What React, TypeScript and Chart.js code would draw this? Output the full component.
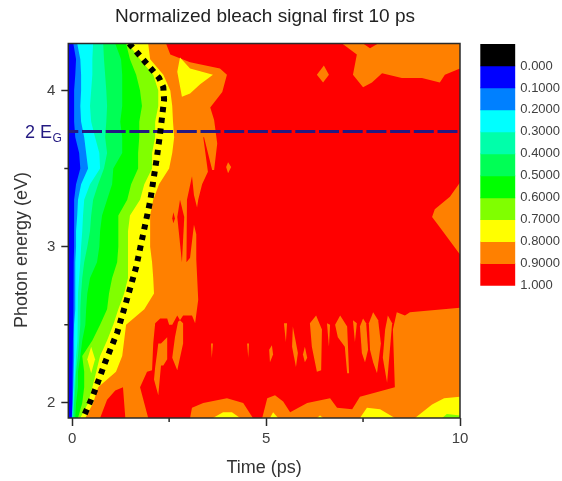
import React, { useEffect, useRef } from "react";
import { Chart, registerables } from "chart.js";

Chart.register(...registerables);

const TITLE = "Normalized bleach signal first 10 ps";
const X_TITLE = "Time (ps)";
const Y_TITLE = "Photon energy (eV)";
const X_MIN = -0.1;
const X_MAX = 10;
const Y_MIN = 1.904;
const Y_MAX = 4.3;
const xMajorTicks = [0, 5, 10];
const xMinorTicks = [2.5, 7.5];
const yMajorTicks = [2, 3, 4];
const yMinorTicks = [2.5, 3.5];

const energyRows = [4.3, 4.2, 4.1, 4.0, 3.9, 3.8, 3.7, 3.6, 3.5, 3.4, 3.3, 3.2, 3.1, 3.0, 2.9, 2.8, 2.7, 2.6, 2.5, 2.4, 2.3, 2.2, 2.1, 2.0, 1.904];
const edgeBlue = [0.03, 0.1, 0.08, 0.05, 0.05, 0.05, 0.08, 0.18, 0.21, 0.1, 0.05, 0.05, 0.05, 0.05, 0.04, 0.04, 0.03, 0.03, 0.03, 0.02, 0.02, 0, 0, 0, -0.01];
const edgeAzure = [0.13, 0.21, 0.23, 0.23, 0.21, 0.23, 0.31, 0.36, 0.41, 0.23, 0.15, 0.13, 0.1, 0.1, 0.08, 0.08, 0.08, 0.08, 0.05, 0.05, 0.05, 0.04, 0.03, 0.01, 0];
const edgeCyan = [0.54, 0.52, 0.52, 0.49, 0.46, 0.49, 0.59, 0.7, 0.72, 0.46, 0.31, 0.28, 0.26, 0.23, 0.21, 0.18, 0.15, 0.15, 0.13, 0.13, 0.1, 0.08, 0.05, 0.03, 0];
const edgeSpring = [0.8, 0.82, 0.85, 0.88, 0.9, 0.88, 0.85, 0.9, 0.82, 0.67, 0.54, 0.49, 0.46, 0.39, 0.31, 0.26, 0.23, 0.21, 0.21, 0.18, 0.15, 0.1, 0.08, 0.05, 0.03];
const edgeMint = [1.11, 1.26, 1.29, 1.29, 1.29, 1.24, 1.29, 1.29, 1.06, 1.03, 0.9, 0.77, 0.72, 0.7, 0.64, 0.46, 0.39, 0.36, 0.34, 0.26, 0.21, 0.15, 0.15, 0.1, 0.08];
const edgeGreen = [1.39, 1.49, 1.65, 1.75, 1.8, 1.73, 1.73, 1.7, 1.7, 1.52, 1.42, 1.19, 1.19, 1.19, 1.16, 1.03, 0.95, 0.9, 0.72, 0.52, 0.26, 0.31, 0.31, 0.26, 0.15];
const edgeLime = [1.44, 1.75, 2.09, 2.22, 2.22, 2.14, 2.14, 2.06, 2.06, 1.86, 1.75, 1.49, 1.44, 1.44, 1.44, 1.44, 1.34, 1.19, 1.06, 0.9, 0.72, 0.62, 0.52, 0.41, 0.21];
const edgeYellow = [1.96, 2.01, 2.35, 2.53, 2.58, 2.6, 2.63, 2.58, 2.5, 2.24, 2.09, 2.01, 2.01, 2.01, 2.06, 2.09, 2.11, 1.86, 1.39, 1.34, 1.29, 1.13, 0.67, 0.54, 0.34];

type Poly = number[][];

const orangeMain: Poly = [[2.42, 4.3], [2.53, 4.23], [3.04, 4.18], [3.81, 4.14], [3.99, 4.1], [3.87, 3.99], [3.56, 3.89], [3.66, 3.81], [3.74, 3.66], [3.66, 3.49], [3.61, 3.49], [3.4, 3.7], [3.38, 3.7], [3.5, 3.48], [3.35, 3.4], [3.25, 3.3], [3.22, 3.25], [3.14, 3.33], [3.09, 3.45], [2.96, 3.3], [2.94, 3.22], [2.94, 3.04], [2.96, 2.9], [3.04, 2.93], [3.14, 3.14], [3.2, 3.08], [3.2, 2.92], [3.25, 2.66], [3.17, 2.51], [3.09, 2.56], [2.86, 2.56], [2.78, 2.53], [2.71, 2.56], [2.58, 2.5], [2.5, 2.5], [2.45, 2.54], [2.27, 2.54], [2.14, 2.51], [2.09, 2.38], [2.06, 2.21], [1.93, 2.2], [1.75, 2.1], [1.96, 1.904], [1.37, 1.904], [1.31, 2.1], [1.11, 2.08], [0.9, 2.02], [0.72, 1.904], [-0.1, 1.904], [-0.1, 4.3]];
const orangeTopRight: Poly = [[6.96, 4.3], [7.34, 4.23], [7.24, 4.1], [7.5, 4.02], [7.73, 4.05], [7.99, 4.11], [8.5, 4.08], [9.02, 4.08], [9.48, 4.05], [9.61, 4.1], [10, 4.14], [10, 4.3], [7.89, 4.3], [7.68, 4.27], [7.5, 4.3]];
const orangeDiamondTop: Poly = [[6.31, 4.1], [6.49, 4.16], [6.62, 4.1], [6.47, 4.05]];
const orangeDiamondMid: Poly = [[4.02, 3.54], [4.1, 3.51], [4.02, 3.47], [3.97, 3.51]];
const orangeRightEdge: Poly = [[10, 3.41], [9.74, 3.32], [9.35, 3.24], [9.28, 3.19], [9.46, 3.13], [10, 2.95]];
const orangeBottomA: Poly = [[3.04, 1.904], [3.09, 1.97], [3.38, 2.0], [3.99, 2.03], [4.41, 2.0], [4.66, 1.904]];
const orangeBottomB: Poly = [[4.9, 1.904], [5.03, 2.03], [5.23, 2.05], [5.44, 2.01], [5.62, 1.94], [6.06, 2.0], [6.65, 2.03], [6.83, 1.97], [7.22, 1.96], [7.42, 2.04], [7.73, 2.06], [8.32, 2.1], [8.27, 2.47], [8.37, 2.58], [8.58, 2.56], [8.71, 2.58], [10, 2.61], [10, 1.904]];
const orangeIslandA: Poly = [[2.22, 2.38], [2.29, 2.38], [2.45, 2.42], [2.45, 2.28], [2.35, 2.24], [2.29, 2.24], [2.22, 2.05], [2.11, 2.15], [2.14, 2.23], [2.19, 2.32]];
const orangeIslandB: Poly = [[2.78, 2.53], [2.86, 2.51], [2.86, 2.38], [2.71, 2.21], [2.58, 2.29], [2.65, 2.42], [2.73, 2.52]];
const redSpike: Poly = [[2.78, 3.3], [2.71, 3.19], [2.83, 2.9], [2.89, 3.19]];
const redDiamond: Poly = [[2.61, 3.22], [2.65, 3.18], [2.61, 3.15], [2.58, 3.18]];
const spikeA: Poly = [[5.46, 2.51], [5.54, 2.51], [5.51, 2.39]];
const spikeB: Poly = [[5.69, 2.49], [5.82, 2.32], [5.77, 2.23], [5.67, 2.36]];
const spikeC: Poly = [[6.0, 2.36], [6.06, 2.29], [6.0, 2.26], [5.95, 2.31]];
const spikeD: Poly = [[6.13, 2.51], [6.29, 2.56], [6.44, 2.47], [6.42, 2.21], [6.31, 2.2], [6.18, 2.36]];
const spikeE: Poly = [[6.57, 2.51], [6.65, 2.5], [6.62, 2.36]];
const spikeF: Poly = [[6.78, 2.5], [6.91, 2.56], [7.09, 2.49], [7.14, 2.19], [7.09, 2.19], [7.03, 2.36], [6.85, 2.42]];
const spikeG: Poly = [[7.24, 2.53], [7.34, 2.51], [7.29, 2.39]];
const spikeH: Poly = [[7.5, 2.54], [7.58, 2.51], [7.63, 2.34], [7.55, 2.26], [7.47, 2.32], [7.42, 2.49]];
const spikeI: Poly = [[7.76, 2.58], [7.89, 2.53], [7.96, 2.38], [7.86, 2.19], [7.76, 2.26], [7.68, 2.34], [7.65, 2.51]];
const spikeJ: Poly = [[8.14, 2.56], [8.25, 2.51], [8.12, 2.13], [8.01, 2.29], [8.07, 2.47]];
const spikeK: Poly = [[3.58, 2.38], [3.63, 2.38], [3.6, 2.29]];
const spikeL: Poly = [[4.51, 2.38], [4.56, 2.38], [4.54, 2.29]];
const spikeM: Poly = [[5.08, 2.34], [5.15, 2.37], [5.18, 2.31], [5.1, 2.26]];
const yellowTopIsland: Poly = [[2.78, 4.21], [3.04, 4.14], [3.63, 4.1], [3.3, 4.04], [3.04, 3.98], [2.83, 3.96], [2.71, 4.12]];
const yellowBottomA: Poly = [[3.63, 1.904], [3.89, 1.94], [4.12, 1.94], [4.33, 1.904]];
const yellowBottomB: Poly = [[5.1, 1.904], [5.18, 1.94], [5.31, 1.904]];
const yellowBottomC: Poly = [[6.31, 1.904], [6.39, 1.92], [6.47, 1.904]];
const yellowBottomD: Poly = [[7.42, 1.904], [7.6, 1.97], [7.94, 1.96], [8.07, 1.94], [8.32, 1.904]];
const yellowBottomE: Poly = [[8.84, 1.904], [9.28, 1.99], [9.59, 2.03], [10, 2.04], [10, 1.904]];
const limeBottom: Poly = [[9.54, 1.904], [9.66, 1.93], [10, 1.92], [10, 1.904]];
const yellowLowIsland: Poly = [[0.49, 2.36], [0.59, 2.28], [0.49, 2.19], [0.39, 2.28]];

const ridgeTimes = [1.47, 2.24, 2.35, 2.37, 2.27, 2.19, 2.01, 1.83, 1.65, 1.42, 1.16, 0.85, 0.54, 0.28];
const ridgeEnergies = [4.3, 4.08, 4.02, 3.94, 3.73, 3.58, 3.29, 3.08, 2.87, 2.67, 2.45, 2.26, 2.05, 1.904];
const gapEnergy = 3.737;

const legendEdges = [-0.1, 0, 0.1, 0.2, 0.3, 0.4, 0.5, 0.6, 0.7, 0.8, 0.9, 1.0];
const legendColors = ["#000000", "#0000ff", "#0080ff", "#00ffff", "#00ffaa", "#00ff55", "#00ff00", "#80ff00", "#ffff00", "#ff8000", "#ff0000"];
const legendTickValues = [0, 0.1, 0.2, 0.3, 0.4, 0.5, 0.6, 0.7, 0.8, 0.9, 1.0];
const legendTickLabels = ["0.000", "0.1000", "0.2000", "0.3000", "0.4000", "0.5000", "0.6000", "0.7000", "0.8000", "0.9000", "1.000"];

const FONT = "'Liberation Sans', Arial, sans-serif";
const INK = "#333333";
const NAVY = "#241a82";

const band = (edge: number[]) => [
  { x: X_MIN, y: energyRows[0] },
  ...edge.map((x, i) => ({ x, y: energyRows[i] })),
  { x: X_MIN, y: energyRows[energyRows.length - 1] },
];
const poly = (p: Poly) => p.map(([x, y]) => ({ x, y }));
const region = (data: { x: number; y: number }[], color: string) => ({
  data,
  backgroundColor: color,
  borderColor: "transparent",
  borderWidth: 0,
  pointRadius: 0,
  showLine: true,
  fill: "shape",
  tension: 0,
});

const layers = [
  region(poly([[X_MIN, Y_MIN], [X_MAX, Y_MIN], [X_MAX, Y_MAX], [X_MIN, Y_MAX]]), "#ff0000"),
  ...[orangeMain, orangeTopRight, orangeDiamondTop, orangeDiamondMid, orangeRightEdge, orangeBottomA, orangeBottomB, orangeIslandA, orangeIslandB, spikeA, spikeB, spikeC, spikeD, spikeE, spikeF, spikeG, spikeH, spikeI, spikeJ, spikeK, spikeL, spikeM].map((p) => region(poly(p), "#ff8000")),
  region(poly(redSpike), "#ff0000"),
  region(poly(redDiamond), "#ff0000"),
  region(band(edgeYellow), "#ffff00"),
  ...[yellowTopIsland, yellowBottomA, yellowBottomB, yellowBottomC, yellowBottomD, yellowBottomE].map((p) => region(poly(p), "#ffff00")),
  region(band(edgeLime), "#80ff00"),
  region(poly(limeBottom), "#80ff00"),
  region(poly(yellowLowIsland), "#ffff00"),
  region(band(edgeGreen), "#00ff00"),
  region(band(edgeMint), "#00ff55"),
  region(band(edgeSpring), "#00ffaa"),
  region(band(edgeCyan), "#00ffff"),
  region(band(edgeAzure), "#0080ff"),
  region(band(edgeBlue), "#0000ff"),
  {
    data: [{ x: X_MIN, y: gapEnergy }, { x: X_MAX, y: gapEnergy }],
    borderColor: NAVY,
    borderWidth: 3,
    borderDash: [20, 3.7],
    borderDashOffset: 10,
    pointRadius: 0,
    showLine: true,
    fill: false,
  },
  {
    data: ridgeTimes.map((x, i) => ({ x, y: ridgeEnergies[i] })),
    borderColor: "#000000",
    borderWidth: 6,
    borderDash: [5.2, 5.6],
    pointRadius: 0,
    showLine: true,
    fill: false,
    tension: 0,
  },
];

const annotations = {
  id: "annotations",
  afterDraw(chart: any) {
    const { ctx, chartArea: a, scales } = chart;
    ctx.save();
    ctx.strokeStyle = "#2a2a2a";
    ctx.lineWidth = 1.5;
    ctx.strokeRect(a.left, a.top, a.right - a.left, a.bottom - a.top);
    ctx.beginPath();
    xMinorTicks.forEach((v) => {
      const p = scales.x.getPixelForValue(v);
      ctx.moveTo(p, a.bottom);
      ctx.lineTo(p, a.bottom + 4);
    });
    yMinorTicks.forEach((v) => {
      const p = scales.y.getPixelForValue(v);
      ctx.moveTo(a.left, p);
      ctx.lineTo(a.left - 4, p);
    });
    ctx.stroke();

    ctx.fillStyle = INK;
    ctx.font = `18px ${FONT}`;
    ctx.textAlign = "center";
    ctx.textBaseline = "middle";
    ctx.save();
    ctx.translate(22, 250);
    ctx.rotate(-Math.PI / 2);
    ctx.fillText(Y_TITLE, 0, 0);
    ctx.restore();

    const yGap = scales.y.getPixelForValue(gapEnergy);
    ctx.fillStyle = NAVY;
    ctx.textAlign = "left";
    ctx.textBaseline = "alphabetic";
    ctx.font = `18px ${FONT}`;
    ctx.fillText("2 E", 25, yGap + 6.5);
    ctx.font = `12px ${FONT}`;
    ctx.fillText("G", 52.5, yGap + 11);
    ctx.restore();
  },
};

export default function App() {
  const mainRef = useRef<HTMLCanvasElement>(null);
  const legendRef = useRef<HTMLCanvasElement>(null);

  useEffect(() => {
    const n = layers.length;
    const main = new Chart(mainRef.current as HTMLCanvasElement, {
      type: "scatter",
      data: { datasets: layers.map((d, i) => ({ ...d, order: n - i })) as any },
      options: {
        animation: false,
        responsive: false,
        devicePixelRatio: 1,
        plugins: {
          legend: { display: false },
          tooltip: { enabled: false },
          title: {
            display: true,
            text: TITLE,
            color: "#222222",
            font: { family: FONT, size: 19, weight: "normal" },
            padding: { top: 5.5, bottom: 15.2 },
          },
        },
        scales: {
          x: {
            type: "linear",
            min: X_MIN,
            max: X_MAX,
            afterBuildTicks: (s: any) => { s.ticks = xMajorTicks.map((value) => ({ value })); },
            afterFit: (s: any) => { s.height = 63; },
            grid: { drawOnChartArea: false, tickLength: 8, tickColor: "#2a2a2a", tickWidth: 1.5 },
            border: { display: false },
            ticks: { color: "#404040", font: { family: FONT, size: 15 }, padding: 4, maxRotation: 0 },
            title: { display: true, text: X_TITLE, color: INK, font: { family: FONT, size: 18 }, padding: { top: 0, bottom: 2.2 } },
          },
          y: {
            type: "linear",
            min: Y_MIN,
            max: Y_MAX,
            afterBuildTicks: (s: any) => { s.ticks = yMajorTicks.map((value) => ({ value })); },
            afterFit: (s: any) => { s.width = 68.3; },
            grid: { drawOnChartArea: false, tickLength: 7, tickColor: "#2a2a2a", tickWidth: 1.5 },
            border: { display: false },
            ticks: { color: "#404040", font: { family: FONT, size: 15 }, padding: 6 },
          },
          margin: {
            type: "linear",
            position: "right",
            afterFit: (s: any) => { s.width = 70; },
            grid: { display: false },
            border: { display: false },
            ticks: { display: false },
          },
        },
      } as any,
      plugins: [annotations],
    });

    const legend = new Chart(legendRef.current as HTMLCanvasElement, {
      type: "bar",
      data: {
        labels: [""],
        datasets: legendColors.map((color, i) => ({
          data: [[legendEdges[i], legendEdges[i + 1]]],
          backgroundColor: color,
          borderWidth: 0,
          barPercentage: 1,
          categoryPercentage: 1,
        })) as any,
      },
      options: {
        animation: false,
        responsive: false,
        devicePixelRatio: 1,
        layout: { padding: { left: 10.3, right: 0, top: 44, bottom: 195.3 } },
        plugins: { legend: { display: false }, tooltip: { enabled: false }, title: { display: false } },
        scales: {
          x: { display: false, stacked: true },
          y: {
            type: "linear",
            position: "right",
            reverse: true,
            min: -0.1,
            max: 1.0,
            afterBuildTicks: (s: any) => { s.ticks = legendTickValues.map((value) => ({ value })); },
            afterFit: (s: any) => { s.width = 46.7; },
            grid: { display: false, drawTicks: false },
            border: { display: false },
            ticks: {
              color: "#404040",
              font: { family: FONT, size: 13 },
              padding: 5,
              autoSkip: false,
              callback: (_v: any, i: number) => legendTickLabels[i],
            },
          },
        },
      } as any,
    });

    return () => {
      main.destroy();
      legend.destroy();
    };
  }, []);

  return (
    <div style={{ position: "absolute", left: 0, top: 0, width: 562, height: 481, background: "#ffffff" }}>
      <canvas ref={mainRef} width={530} height={481} style={{ position: "absolute", left: 0, top: 0, filter: "blur(0.4px)" }} />
      <canvas ref={legendRef} width={92} height={481} style={{ position: "absolute", left: 470, top: 0, filter: "blur(0.4px)" }} />
    </div>
  );
}
